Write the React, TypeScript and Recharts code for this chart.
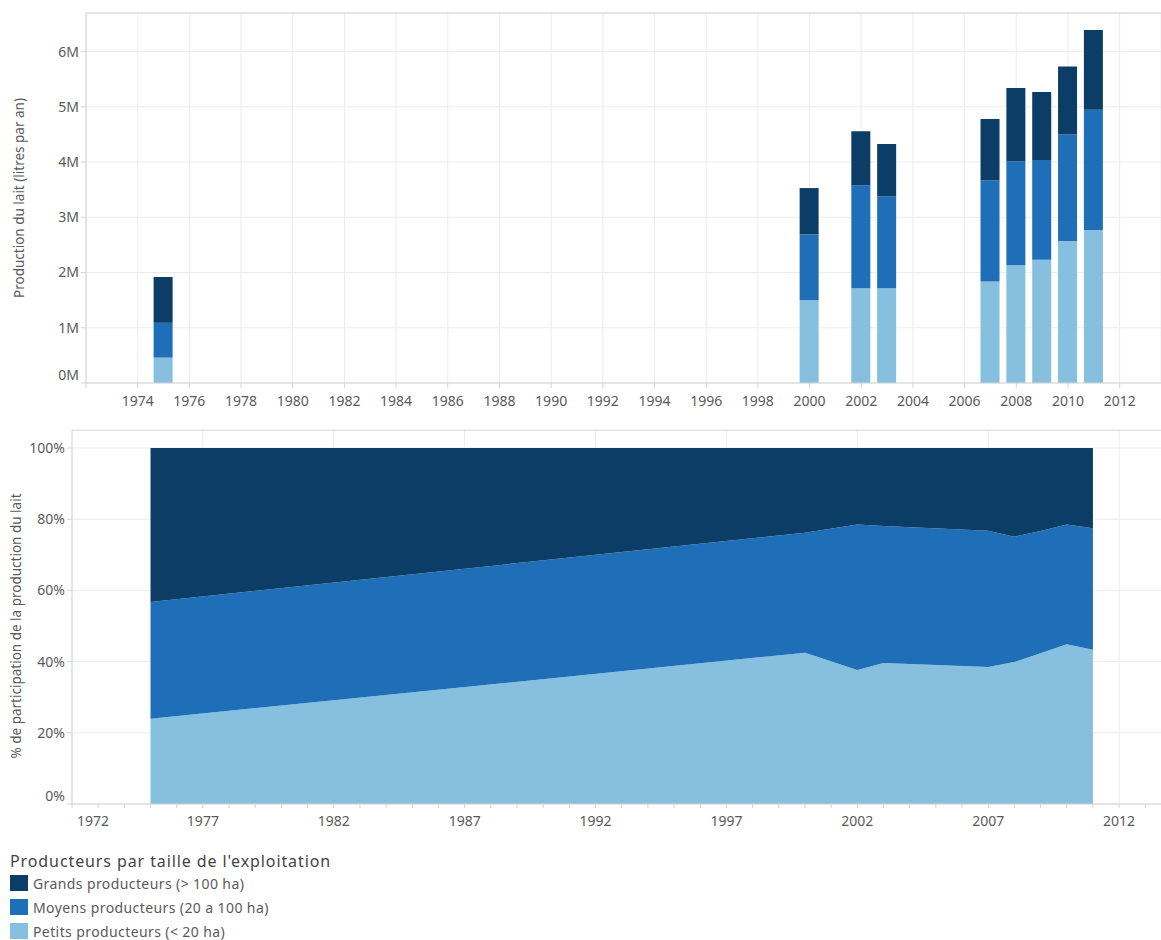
import React from "react";
import {
  Area,
  AreaChart,
  Bar,
  BarChart,
  CartesianGrid,
  ReferenceLine,
  XAxis,
  YAxis
} from "recharts";

// production de lait (litres par an)
const years = [1975, 2000, 2002, 2003, 2007, 2008, 2009, 2010, 2011];
const petits = [460000, 1500000, 1715000, 1715000, 1840000, 2130000, 2230000, 2570000, 2770000];
const moyens = [630000, 1190000, 1865000, 1665000, 1830000, 1880000, 1810000, 1930000, 2180000];
const grands = [830000, 840000, 980000, 950000, 1110000, 1330000, 1230000, 1230000, 1440000];

const topTicks = [1972, 1974, 1976, 1978, 1980, 1982, 1984, 1986, 1988, 1990, 1992, 1994, 1996, 1998, 2000, 2002, 2004, 2006, 2008, 2010, 2012];
const millionTicks = [0, 1000000, 2000000, 3000000, 4000000, 5000000, 6000000];
const yearTicks = [1972, 1973, 1974, 1975, 1976, 1977, 1978, 1979, 1980, 1981, 1982, 1983, 1984, 1985, 1986, 1987, 1988, 1989, 1990, 1991, 1992, 1993, 1994, 1995, 1996, 1997, 1998, 1999, 2000, 2001, 2002, 2003, 2004, 2005, 2006, 2007, 2008, 2009, 2010, 2011, 2012, 2013];
const majorYears = [1972, 1977, 1982, 1987, 1992, 1997, 2002, 2007, 2012];
const pctTicks = [0, 0.2, 0.4, 0.6, 0.8, 1];

const seriesNames = {
  grands: "Grands producteurs (> 100 ha)",
  moyens: "Moyens producteurs (20 a 100 ha)",
  petits: "Petits producteurs (< 20 ha)"
};

const COLORS = { grands: "#0c3d66", moyens: "#1f6fb8", petits: "#87bfde" };
const FONT = "'Noto Sans', 'Open Sans', sans-serif";
const TXT = "#5a5a5a";
const GRID = "#ececec";
const AXIS = "#d4d4d4";
const X_MAX = 2013.6;
const PCT_TOP = 1.05;

const data = years.map((y, i) => ({
  year: y,
  petits: petits[i],
  moyens: moyens[i],
  grands: grands[i]
}));

const YTick = (fmt: (v: number) => string) => (props: any) => {
  const { x, y, payload } = props;
  return (
    <text x={x} y={payload.value === 0 ? y - 8 : y} dy="0.35em" textAnchor="end"
      fill={TXT} fontSize={14} fontFamily={FONT}>
      {fmt(payload.value)}
    </text>
  );
};

const TopXTick = (props: any) => {
  const { x, y, payload } = props;
  if (payload.value === 1972) return <g />;
  return (
    <text x={x} y={y + 16} textAnchor="middle" fill={TXT} fontSize={14} fontFamily={FONT}>
      {payload.value}
    </text>
  );
};

const BottomXTick = (props: any) => {
  const { x, y, payload } = props;
  if ((payload.value - 1972) % 5 !== 0) return <g />;
  const first = payload.value === 1972;
  return (
    <text x={first ? x + 5 : x} y={y + 16} textAnchor={first ? "start" : "middle"}
      fill={TXT} fontSize={14} fontFamily={FONT}>
      {payload.value}
    </text>
  );
};

export default function App() {
  return (
    <div style={{ position: "absolute", left: 0, top: 0, width: 1161, height: 940, fontFamily: FONT, background: "#fff" }}>
      <div style={{ position: "absolute", left: 0, top: 0 }}>
        <BarChart width={1161} height={415} data={data} margin={{ top: 13, right: 0, left: 10, bottom: 2 }}>
          <CartesianGrid stroke={GRID} />
          <ReferenceLine y={6700000} stroke={AXIS} ifOverflow="visible" />
          <XAxis dataKey="year" type="number" domain={[1972, X_MAX]} ticks={topTicks} interval={0}
            allowDataOverflow height={30} stroke={AXIS} tickSize={5} tick={TopXTick} />
          <YAxis type="number" domain={[0, 6700000]} ticks={millionTicks} allowDataOverflow
            width={76} stroke={AXIS} tickSize={5} tick={YTick((v) => `${v / 1000000}M`)}
            label={{ value: "Production du lait (litres par an)", angle: -90, position: "insideLeft", offset: 9,
              style: { textAnchor: "middle", fill: TXT, fontSize: 13.5, fontFamily: FONT } }} />
          <Bar dataKey="petits" name={seriesNames.petits} stackId="a" fill={COLORS.petits} barSize={19} isAnimationActive={false} />
          <Bar dataKey="moyens" name={seriesNames.moyens} stackId="a" fill={COLORS.moyens} barSize={19} isAnimationActive={false} />
          <Bar dataKey="grands" name={seriesNames.grands} stackId="a" fill={COLORS.grands} barSize={19} isAnimationActive={false} />
        </BarChart>
      </div>

      <div style={{ position: "absolute", left: 0, top: 415 }}>
        <AreaChart width={1161} height={425} data={data} stackOffset="expand"
          margin={{ top: 33, right: 0, left: 8, bottom: 6 }}>
          <CartesianGrid stroke={GRID} verticalValues={majorYears} />
          {majorYears.map((y) => (
            <ReferenceLine key={y} segment={[{ x: y, y: 1 }, { x: y, y: PCT_TOP }]}
              stroke={y === 1972 ? AXIS : GRID} ifOverflow="visible" />
          ))}
          <ReferenceLine segment={[{ x: 1972, y: PCT_TOP }, { x: X_MAX, y: PCT_TOP }]} stroke={AXIS} ifOverflow="visible" />
          <XAxis dataKey="year" type="number" domain={[1972, X_MAX]} ticks={yearTicks} interval={0}
            allowDataOverflow height={30} stroke={AXIS} tickSize={4} tick={BottomXTick} />
          <YAxis type="number" domain={[0, 1]} ticks={pctTicks} allowDataOverflow
            width={64} stroke={AXIS} tickSize={5} tick={YTick((v) => `${Math.round(v * 100)}%`)}
            label={{ value: "% de participation de la production du lait", angle: -90, position: "insideLeft", offset: 8,
              style: { textAnchor: "middle", fill: TXT, fontSize: 13.5, fontFamily: FONT } }} />
          <Area type="linear" dataKey="petits" name={seriesNames.petits} stackId="b" stroke="none"
            fill={COLORS.petits} fillOpacity={1} isAnimationActive={false} />
          <Area type="linear" dataKey="moyens" name={seriesNames.moyens} stackId="b" stroke="none"
            fill={COLORS.moyens} fillOpacity={1} isAnimationActive={false} />
          <Area type="linear" dataKey="grands" name={seriesNames.grands} stackId="b" stroke="none"
            fill={COLORS.grands} fillOpacity={1} isAnimationActive={false} />
        </AreaChart>
      </div>

      <div style={{ position: "absolute", left: 10, top: 851, color: "#444" }}>
        <div style={{ fontSize: 16, letterSpacing: 0.9, lineHeight: "20px" }}>Producteurs par taille de l'exploitation</div>
        {(["grands", "moyens", "petits"] as const).map((k) => (
          <div key={k} style={{ display: "flex", alignItems: "center", height: 24, fontSize: 14, color: TXT, letterSpacing: 0.4 }}>
            <span style={{ display: "inline-block", width: 18, height: 16, background: COLORS[k], marginRight: 5 }} />
            {seriesNames[k]}
          </div>
        ))}
      </div>
    </div>
  );
}
